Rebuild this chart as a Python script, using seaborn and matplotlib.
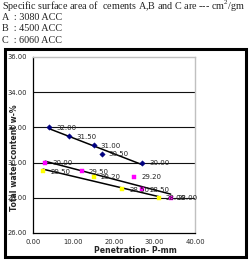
import matplotlib
matplotlib.use("Agg")
import matplotlib.pyplot as plt
from matplotlib.patches import Rectangle
import seaborn as sns
import pandas as pd

# cement A, B, C : penetration (mm) vs total water content (%)
pen_a = [4, 9, 15, 17, 27]
water_a = [32.00, 31.50, 31.00, 30.50, 30.00]
pen_b = [3, 12, 25, 27, 34]
water_b = [30.00, 29.50, 29.20, 28.50, 28.00]
pen_c = [2.5, 15, 22, 31]
water_c = [29.50, 29.20, 28.50, 28.00]

header = ["Specific surface area of  cements A,B and C are --- cm$^2$/gm",
          "A  : 3080 ACC",
          "B  : 4500 ACC",
          "C  : 6060 ACC"]

x_ticks = [0, 10, 20, 30, 40]
y_ticks = [26, 28, 30, 32, 34, 36]

sns.set_style("white")
plt.rcParams['font.family'] = ['DejaVu Sans']
plt.rcParams['mathtext.fontset'] = 'custom'
plt.rcParams['mathtext.rm'] = 'Liberation Serif'

W, H = 249, 270
fig = plt.figure(figsize=(W / 100, H / 100), dpi=100)

# header text
for i, line in enumerate(header):
    fig.text(2 / W, 1 - (6.5 + i * 11.2) / H, line, family='Liberation Serif',
             fontsize=7.3, va='center', ha='left', color='#222222')

# outer chart box
fig.patches.append(Rectangle((5 / W, 1 - 257 / H), 241 / W, 208 / H,
                             transform=fig.transFigure, fill=False,
                             edgecolor='black', linewidth=2.2))

ax = fig.add_axes([33 / W, 1 - 233 / H, 162 / W, 176 / H])

series = [(pen_a, water_a, '#000080', 'D', 2.2),
          (pen_b, water_b, '#ff00ff', 's', 2.6),
          (pen_c, water_c, '#ffff00', 's', 2.6)]

for px, wy, col, mk, ms in series:
    df = pd.DataFrame({'pen': px, 'w': wy})
    sns.regplot(data=df, x='pen', y='w', ax=ax, scatter=False, ci=None,
                truncate=True, line_kws={'color': 'black', 'lw': 1.1})
    sns.scatterplot(data=df, x='pen', y='w', ax=ax, color=col, marker=mk,
                    s=ms ** 2 * 1.6, edgecolor=col, linewidth=0.3, zorder=5)
    for xv, yv in zip(px, wy):
        ax.annotate(f"{yv:.2f}", (xv, yv), xytext=(5, -0.5),
                    textcoords='offset points', fontsize=5, va='center',
                    ha='left', color='#222222', zorder=6)

ax.set_xlim(0, 40)
ax.set_ylim(26, 36)
ax.set_xticks(x_ticks)
ax.set_yticks(y_ticks)
ax.set_xticklabels([f"{v:.2f}" for v in x_ticks], fontsize=4.9)
ax.set_yticklabels([f"{v:.2f}" for v in y_ticks], fontsize=4.9)
ax.tick_params(length=3, width=0.8, pad=1.5, color='black', direction='out')
for yv in y_ticks[1:-1]:
    ax.axhline(yv, color='#111111', lw=0.8, zorder=1)

for side in ['top', 'right']:
    ax.spines[side].set_color('#c0c0c0')
    ax.spines[side].set_linewidth(1.0)
for side in ['left', 'bottom']:
    ax.spines[side].set_color('black')
    ax.spines[side].set_linewidth(0.9)

ax.set_xlabel("Penetration- P-mm", fontsize=5.6, fontweight='bold')
ax.set_ylabel("Total water content w-%", fontsize=5.6, fontweight='bold')
ax.xaxis.set_label_coords((135 - 33) / 162, -(246 - 233) / 176)
ax.yaxis.set_label_coords(-(33 - 19) / 162, (233 - 158) / 176)

fig.savefig("out.png", dpi=100)
